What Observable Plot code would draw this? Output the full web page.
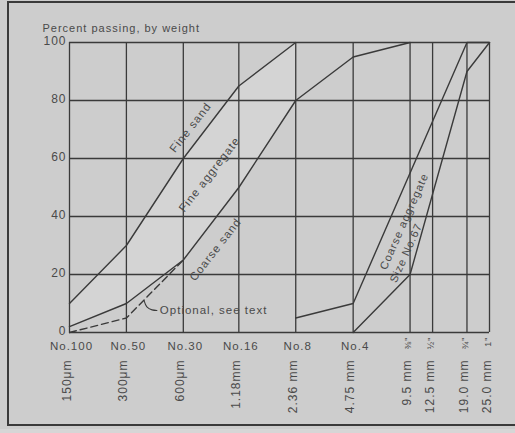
<!DOCTYPE html>
<html>
<head>
<meta charset="utf-8">
<script src="https://cdn.jsdelivr.net/npm/d3@7"></script>
<script src="https://cdn.jsdelivr.net/npm/@observablehq/plot@0.6"></script>
<style>
  html, body { margin: 0; padding: 0; background: #cdcdcd; }
  #wrap { position: relative; width: 515px; height: 433px; overflow: hidden; background: #cdcdcd; }
  #frame { position: absolute; left: 7px; top: 1px; width: 520px; height: 425px;
           border-top: 2.5px solid #3a3a3a; border-left: 2.5px solid #3a3a3a; border-bottom: 2.5px solid #3a3a3a; box-sizing: border-box; }
  #below { position: absolute; left: 0; top: 429px; width: 515px; height: 10px; background: #d6d6d6; }
  #chart { position: absolute; left: 0; top: 0; }
  #chart svg text { letter-spacing: 1px; }
</style>
</head>
<body>
<div id="wrap">
  <div id="below"></div>
  <div id="frame"></div>
  <div id="chart"></div>
</div>
<script>
// Sieve sizes (mm) and labels
const sieveSizes = [0.15, 0.3, 0.6, 1.18, 2.36, 4.75, 9.5, 12.5, 19.0, 25.0];
const sieveNames = ["No.100", "No.50", "No.30", "No.16", "No.8", "No.4"];
const mmLabels = ["150μm", "300μm", "600μm", "1.18mm", "2.36 mm", "4.75 mm", "9.5 mm", "12.5 mm", "19.0 mm", "25.0 mm"];
const inchSizes = [9.5, 12.5, 19.0, 25.0];
const inchLabels = ["⅜\"", "½\"", "¾\"", "1\""];
const yTicks = [0, 20, 40, 60, 80, 100];

// Fine aggregate limits
const fineSandSizes = [0.15, 0.3, 0.6, 1.18, 2.36];
const fineSandValues = [10, 30, 60, 85, 100];
const coarseSandSizes = [0.15, 0.3, 0.6, 1.18, 2.36, 4.75, 9.5];
const coarseSandValues = [2, 10, 25, 50, 80, 95, 100];
const optionalSizes = [0.15, 0.3, 0.6];
const optionalValues = [0, 5, 25];

// Coarse aggregate Size No.67 limits
const caUpperSizes = [2.36, 4.75, 9.5, 19.0, 25.0];
const caUpperValues = [5, 10, 55, 100, 100];
const caLowerSizes = [4.75, 9.5, 19.0, 25.0];
const caLowerValues = [0, 20, 90, 100];

// Annotations (data space)
const curveLabels = [
  {text: "Fine sand", x: 0.655, y: 70.7, rotate: -52, size: 11.5},
  {text: "Fine aggregate", x: 0.826, y: 54.5, rotate: -52, size: 11.5},
  {text: "Coarse sand", x: 0.888, y: 28.6, rotate: -52, size: 11.5},
  {text: "Coarse aggregate", x: 8.85, y: 38.3, rotate: -66, size: 11},
  {text: "Size No.67", x: 9.05, y: 27.4, rotate: -66, size: 11}
];
const leaderX = [0.372, 0.385, 0.41, 0.435];
const leaderY = [11, 8.8, 7.8, 7.6];
const optionalNote = {text: "Optional, see text", x: 0.44, y: 7.6};

const zip = (xs, ys) => xs.map((x, i) => ({x, y: ys[i]}));
const band = fineSandSizes.map((x, i) => ({x, lo: coarseSandValues[i], hi: fineSandValues[i]}));

const ink = "#3a3a3a";
const textInk = "#4a4a4a";
const font = "Liberation Sans, Arial, sans-serif";

const chart = Plot.plot({
  width: 515,
  height: 433,
  marginLeft: 69,
  marginRight: 26,
  marginTop: 42,
  marginBottom: 101,
  style: {background: "transparent", fontFamily: font, fontSize: "12px", color: textInk},
  x: {type: "log", domain: [0.15, 25], axis: null},
  y: {domain: [0, 100], axis: null},
  marks: [
    Plot.areaY(band, {x: "x", y1: "lo", y2: "hi", fill: "#d4d4d4"}),
    Plot.ruleX(sieveSizes, {x: d => d, y1: 0, y2: 100, stroke: ink, strokeWidth: 1.3}),
    Plot.ruleY(yTicks, {y: d => d, x1: 0.15, x2: 25, stroke: ink, strokeWidth: 1.3}),
    Plot.line(zip(fineSandSizes, fineSandValues), {x: "x", y: "y", stroke: ink, strokeWidth: 1.4}),
    Plot.line(zip(coarseSandSizes, coarseSandValues), {x: "x", y: "y", stroke: ink, strokeWidth: 1.4}),
    Plot.line(zip(optionalSizes, optionalValues), {x: "x", y: "y", stroke: ink, strokeWidth: 1.4, strokeDasharray: "7,4"}),
    Plot.line(zip(caUpperSizes, caUpperValues), {x: "x", y: "y", stroke: ink, strokeWidth: 1.4}),
    Plot.line(zip(caLowerSizes, caLowerValues), {x: "x", y: "y", stroke: ink, strokeWidth: 1.4}),
    Plot.line(zip(leaderX, leaderY), {x: "x", y: "y", stroke: ink, strokeWidth: 1.1, curve: "natural"}),
    Plot.text([optionalNote], {x: "x", y: "y", text: "text", textAnchor: "start", dx: 2, fill: textInk, fontSize: 11.5}),
    Plot.text(curveLabels, {x: "x", y: "y", text: "text", rotate: "rotate", fontSize: "size", fill: textInk}),
    // Y tick labels
    Plot.text(yTicks, {y: d => d, frameAnchor: "left", text: d => String(d), textAnchor: "end", dx: -3, dy: -1, fill: textInk, fontSize: 12}),
    // Y title
    Plot.text(["Percent passing, by weight"], {frameAnchor: "top-left", text: d => d, textAnchor: "start", dx: -27, dy: -18, fill: textInk, fontSize: 11}),
    // Sieve numbers
    Plot.text(sieveNames, {x: (d, i) => sieveSizes[i], frameAnchor: "bottom", text: d => d, dy: 17, dx: 2, fill: textInk, fontSize: 11.5}),
    // Metric sizes, rotated
    Plot.text(mmLabels, {x: (d, i) => sieveSizes[i], frameAnchor: "bottom", text: d => d, rotate: -90, textAnchor: "end", dy: 27, dx: 1, fill: textInk, fontSize: 12}),
    // Inch sizes, rotated, small
    Plot.text(inchLabels, {x: (d, i) => inchSizes[i], frameAnchor: "bottom", text: d => d, rotate: -90, textAnchor: "end", dy: 4, dx: 1, fill: textInk, fontSize: 9})
  ]
});
document.getElementById("chart").appendChild(chart);
</script>
</body>
</html>
